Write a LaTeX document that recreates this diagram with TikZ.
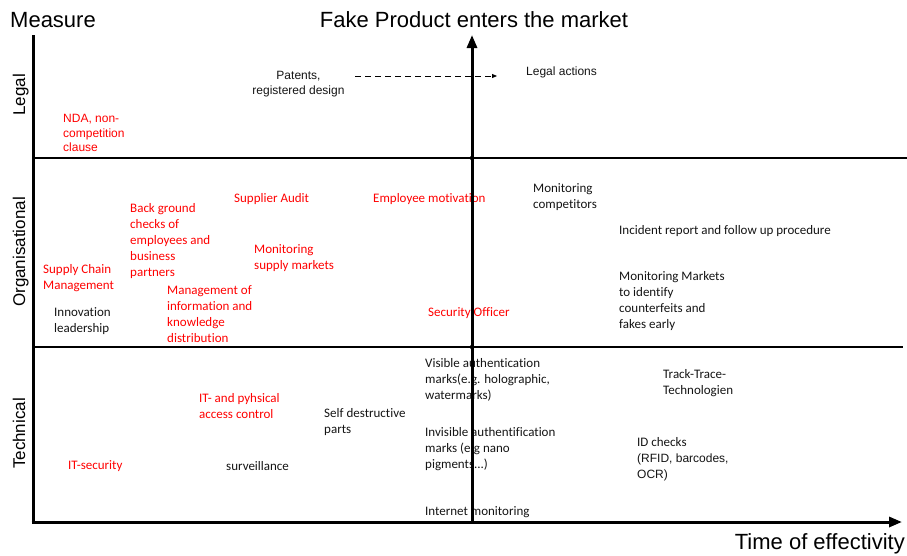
\documentclass[tikz,border=0pt]{standalone}
\usepackage{fontspec}
\setmainfont{Liberation Sans}
\newfontfamily\calfont[Ligatures={NoCommon}]{Carlito}
\usetikzlibrary{arrows.meta}
\definecolor{mred}{RGB}{255,0,0}
\definecolor{ink}{RGB}{20,20,20}
\tikzset{
  axisline/.style={line width=3pt, draw=black, -{Triangle[length=13pt,width=10pt]}},
  frameline/.style={line width=3pt, draw=black},
  bandline/.style={line width=2.5pt, draw=black},
  dasharrow/.style={draw=black, line width=0.8pt, dash pattern=on 6pt off 4pt, -{Triangle[length=5pt,width=4pt]}},
  title/.style={inner sep=0pt, font=\fontsize{22}{25}\selectfont, text=black},
  side/.style={inner sep=0pt, rotate=90, anchor=base, font=\fontsize{17}{20}\selectfont, text=black},
  item/.style={anchor=north west, inner sep=0pt, align=left, text=ink,
               font=\calfont\fontsize{13}{16}\selectfont},
  aitem/.style={anchor=north west, inner sep=0pt, align=left, text=ink,
               font=\fontsize{12}{14.7}\selectfont},
  hot/.style={text=mred},
}
\begin{document}
\begin{tikzpicture}[x=1pt,y=-1pt]
\useasboundingbox (0,0) rectangle (907,555);

% headings
\node[title, anchor=base west] (measure) at (10,27) {Measure};
\node[title, anchor=base] (entry) at (474,27) {Fake Product enters the market};
\node[title, anchor=base east] (time) at (905,549) {Time of effectivity};

% row labels
\node[side] (legal) at (25,95) {Legal};
\node[side] (org) at (25,252) {Organisational};
\node[side] (tech) at (25,433.5) {Technical};

% legal row
\node[aitem, align=center, anchor=north] (patents) at (298.5,71) {Patents,\\registered design};
\node[aitem] (legalact) at (526,67) {Legal actions};
\node[aitem, hot] (nda) at (63,114) {NDA, non-\\competition\\clause};

% organisational row
\node[item, hot] (scm) at (43,264) {Supply Chain\\Management};
\node[item] (innov) at (54,307) {Innovation\\leadership};
\node[item, hot] (bgcheck) at (130,203) {Back ground\\checks of\\employees and\\business\\partners};
\node[item, hot] (mgmt) at (167,285) {Management of\\information and\\knowledge\\distribution};
\node[item, hot] (audit) at (234,193) {Supplier Audit};
\node[item, hot] (supply) at (254,244) {Monitoring\\supply markets};
\node[item, hot] (motiv) at (373,193) {Employee motivation};
\node[item, hot] (officer) at (428,307) {Security Officer};
\node[item] (comp) at (533,183) {Monitoring\\competitors};
\node[item] (incident) at (619,225) {Incident report and follow up procedure};
\node[item] (markets) at (619,271) {Monitoring Markets\\to identify\\counterfeits and\\fakes early};

% technical row
\node[item, hot] (itsec) at (68,460) {IT-security};
\node[item, hot] (access) at (199,393) {IT- and pyhsical\\access control};
\node[item] (surv) at (226,461) {surveillance};
\node[item] (selfdes) at (324,408) {Self destructive\\parts};
\node[item] (visible) at (425,358) {Visible authentication\\marks(e.g. holographic,\\watermarks)};
\node[item] (invisible) at (425,427) {Invisible authentification\\marks (e.g nano\\pigments...)};
\node[item] (internet) at (425,506) {Internet monitoring};
\node[item] (track) at (663,369) {Track-Trace-\\Technologien};
\node[item] (idcheck) at (637,437) {ID checks\\{\fontsize{12}{15}\selectfont\rmfamily (RFID, barcodes,}\\{\fontsize{12}{15}\selectfont\rmfamily OCR)}};

% axes and row separators
\coordinate (topleft) at (33,35);
\coordinate (origin) at (33,522);
\coordinate (xend) at (902,522);
\coordinate (launchfoot) at (472,522);
\coordinate (launchtop) at (472,35);
\coordinate (sepA) at (33,158);
\coordinate (sepAend) at (907,158);
\coordinate (sepB) at (33,347);
\coordinate (sepBend) at (903,347);

\draw[bandline] (sepA) -- (sepAend);
\draw[bandline] (sepB) -- (sepBend);
\draw[frameline] (topleft) -- (origin);
\draw[axisline] ([xshift=-1.5pt]origin) -- (xend);
\draw[axisline] (launchfoot) -- (launchtop);
\fill (472,158) circle (2.2pt);
\fill (472,347) circle (2.2pt);

% dashed link from patents to legal actions
\coordinate (dashstart) at (355,76);
\coordinate (dashend) at (497,76);
\draw[dasharrow] (dashstart) -- (dashend);
\end{tikzpicture}
\end{document}
